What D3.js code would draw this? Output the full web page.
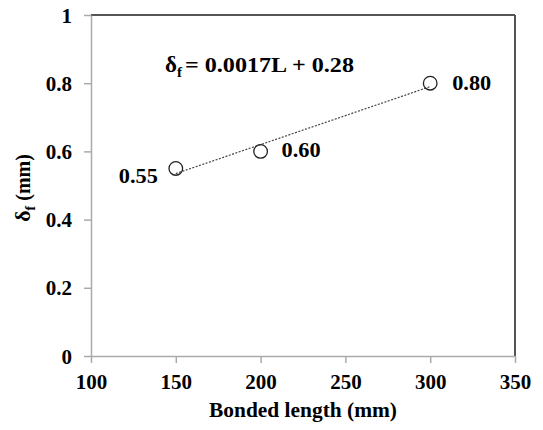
<!DOCTYPE html>
<html><head><meta charset="utf-8">
<script src="https://cdn.jsdelivr.net/npm/d3@7"></script>
<style>body{margin:0;background:#fff}svg text{font-family:"Liberation Serif","Times New Roman",serif;font-weight:bold;fill:#000}</style>
</head><body><svg id="c" width="543" height="430"></svg>
<script>
const lengths = [150, 200, 300];
const deltaF = [0.55, 0.60, 0.80];
const pointLabels = ["0.55", "0.60", "0.80"];
const xTicks = [100, 150, 200, 250, 300, 350];
const yTicks = [0, 0.2, 0.4, 0.6, 0.8, 1];
const yTickLabels = ["0", "0.2", "0.4", "0.6", "0.8", "1"];
const slope = 0.0017, intercept = 0.28;

const svg = d3.select("#c");
const L = 91, R = 515, T = 15, B = 356;
const x = d3.scaleLinear().domain([100, 350]).range([L, R]);
const y = d3.scaleLinear().domain([0, 1]).range([B, T]);

// frame top/right
svg.append("line").attr("x1", L).attr("x2", R).attr("y1", T).attr("y2", T).attr("stroke", "#555").attr("stroke-width", 2);
svg.append("line").attr("x1", R).attr("x2", R).attr("y1", T).attr("y2", B).attr("stroke", "#555").attr("stroke-width", 2);

const xa = svg.append("g").attr("transform", `translate(0,${B})`)
  .call(d3.axisBottom(x).tickValues(xTicks).tickSize(7).tickSizeOuter(0).tickPadding(12));
const ya = svg.append("g").attr("transform", `translate(${L},0)`)
  .call(d3.axisLeft(y).tickValues(yTicks).tickFormat((d, i) => yTickLabels[i]).tickSize(7).tickSizeOuter(0).tickPadding(12));
[xa, ya].forEach(g => {
  g.selectAll("path,line").attr("stroke", "#aaa").attr("stroke-width", 1.5);
  g.selectAll("text").attr("font-size", 21).attr("font-family", "Liberation Serif").attr("font-weight", "bold").attr("fill", "#000");
});
xa.selectAll("text").attr("dy", "0.68em");
ya.selectAll("text").attr("dy", "0.34em");

// trendline
svg.append("line")
  .attr("x1", x(lengths[0])).attr("y1", y(slope * lengths[0] + intercept))
  .attr("x2", x(lengths[2])).attr("y2", y(slope * lengths[2] + intercept))
  .attr("stroke", "#444").attr("stroke-width", 1.2).attr("stroke-dasharray", "2,1.5");

svg.selectAll("circle.p").data(lengths).join("circle").attr("class", "p")
  .attr("cx", d => x(d)).attr("cy", (d, i) => y(deltaF[i])).attr("r", 6.8)
  .attr("fill", "none").attr("stroke", "#222").attr("stroke-width", 1.3);

const offs = [[-18, 15, "end"], [21, 6, "start"], [22, 7, "start"]];
svg.selectAll("text.pl").data(lengths).join("text").attr("class", "pl")
  .attr("x", (d, i) => x(d) + offs[i][0]).attr("y", (d, i) => y(deltaF[i]) + offs[i][1])
  .attr("text-anchor", (d, i) => offs[i][2]).attr("font-size", 21)
  .attr("textLength", 39).attr("lengthAdjust", "spacingAndGlyphs")
  .text((d, i) => pointLabels[i]);

const eq = svg.append("text").attr("x", 165).attr("y", 72).attr("font-size", 21);
eq.append("tspan").attr("font-size", 23).text("δ");
eq.append("tspan").attr("font-size", 15).attr("dy", 5).text("f");
eq.append("tspan").attr("dy", -5).attr("dx", 3).attr("textLength", 169).attr("lengthAdjust", "spacingAndGlyphs").text("= 0.0017L + 0.28");

svg.append("text").attr("x", 303).attr("y", 417).attr("text-anchor", "middle").attr("font-size", 21)
  .attr("textLength", 188).attr("lengthAdjust", "spacingAndGlyphs").text("Bonded length (mm)");
const yt = svg.append("text").attr("transform", "translate(30,188) rotate(-90)").attr("text-anchor", "middle").attr("font-size", 20);
yt.append("tspan").attr("font-size", 22).text("δ");
yt.append("tspan").attr("font-size", 14).attr("dy", 5).text("f");
yt.append("tspan").attr("dy", -5).text(" (mm)");
</script></body></html>
